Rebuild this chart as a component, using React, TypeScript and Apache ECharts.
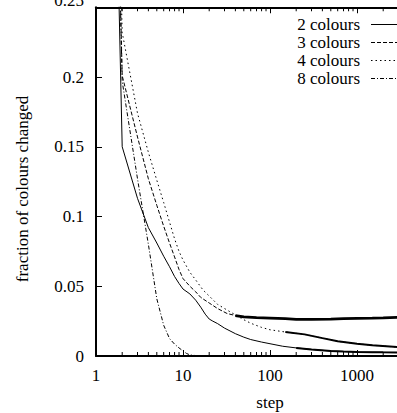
import React, { useEffect, useRef } from "react";
import * as echarts from "echarts";

const FONT = "Liberation Serif";

const seriesNames = ["2 colours", "3 colours", "4 colours", "8 colours"];

const steps2 = [1, 2, 3, 4, 5, 6, 7, 8, 9, 10, 12, 14, 16, 18, 20, 22, 25, 30, 40, 50, 60, 80, 100, 140, 200, 300, 500, 700, 1000, 1500, 2000, 3000, 5000, 10000];
const vals2 = [1.0, 0.15, 0.113, 0.092, 0.081, 0.0715, 0.064, 0.057, 0.052, 0.048, 0.0445, 0.040, 0.035, 0.030, 0.0265, 0.025, 0.0232, 0.020, 0.016, 0.0135, 0.0118, 0.010, 0.0088, 0.0070, 0.0058, 0.0047, 0.0036, 0.0032, 0.0029, 0.0027, 0.0026, 0.0025, 0.0024, 0.0022];

const steps3 = [1, 2, 3, 4, 5, 6, 7, 8, 9, 10, 12, 14, 16, 20, 25, 32, 40, 50, 70, 100, 150, 200, 300, 500, 700, 1000, 1500, 2000, 3000, 5000, 10000];
const vals3 = [1.0, 0.201, 0.157, 0.127, 0.108, 0.093, 0.081, 0.071, 0.062, 0.0555, 0.050, 0.046, 0.042, 0.038, 0.034, 0.0305, 0.029, 0.028, 0.0275, 0.0272, 0.0268, 0.0262, 0.0262, 0.0265, 0.0268, 0.027, 0.0272, 0.0274, 0.0277, 0.028, 0.028];

const steps4 = [1, 2, 3, 4, 5, 6, 7, 8, 9, 10, 12, 14, 17, 20, 25, 32, 40, 50, 60, 80, 100, 150, 250, 400, 600, 1000, 1500, 3000, 5000, 10000];
const vals4 = [1.0, 0.232, 0.174, 0.146, 0.126, 0.110, 0.096, 0.084, 0.075, 0.0688, 0.060, 0.0545, 0.0473, 0.043, 0.037, 0.033, 0.0295, 0.026, 0.0235, 0.0205, 0.0188, 0.0172, 0.0155, 0.0128, 0.0105, 0.0088, 0.0077, 0.0063, 0.0055, 0.0045];

const steps8 = [1, 2, 3, 4, 5, 6, 7, 8, 9, 10, 11, 12, 14, 16, 20];
const vals8 = [1.0, 0.197, 0.127, 0.080, 0.041, 0.022, 0.0125, 0.0085, 0.0058, 0.0036, 0.0018, 0.0008, 0.0003, 0, 0];

const allSteps = [steps2, steps3, steps4, steps8];
const allVals = [vals2, vals3, vals4, vals8];
const dashes: any[] = ["solid", [4, 2], [1.5, 3], [4, 2, 1, 2]];
// step from which the curve becomes a noisy band
const noisyFrom = [150, 40, 150, Infinity];
const noisyWidth = [2, 2.8, 2, 0];

const minorTicks = [2, 3, 4, 5, 6, 7, 8, 9, 20, 30, 40, 50, 60, 70, 80, 90, 200, 300, 400, 500, 600, 700, 800, 900, 2000, 3000, 4000, 5000, 6000, 7000, 8000, 9000];

const xTitle = "step";
const yTitle = "fraction of colours changed";

function buildOption() {
  const series: any[] = [];
  seriesNames.forEach((name, i) => {
    const data = allSteps[i].map((s, j) => [s, allVals[i][j]]);
    series.push({
      name,
      type: "line",
      data,
      showSymbol: false,
      symbol: "none",
      lineStyle: { color: "#000", width: 1, type: dashes[i] },
      z: 3,
    });
    if (noisyFrom[i] !== Infinity) {
      series.push({
        name: name + " band",
        type: "line",
        data: data.filter((d) => d[0] >= noisyFrom[i]),
        showSymbol: false,
        symbol: "none",
        lineStyle: { color: "#000", width: noisyWidth[i], type: "solid" },
        z: 3,
      });
    }
  });
  series.push({
    type: "custom",
    data: minorTicks.map((v) => [v, 0]),
    encode: { x: 0, y: 1 },
    clip: false,
    silent: true,
    z: 5,
    renderItem: (params: any, api: any) => {
      const x = api.coord([api.value(0), 0])[0];
      const yb = api.coord([1, 0])[1];
      const yt = api.coord([1, 0.25])[1];
      return {
        type: "group",
        children: [
          { type: "line", shape: { x1: x, y1: yb, x2: x, y2: yb - 4 }, style: { stroke: "#000", lineWidth: 1 } },
          { type: "line", shape: { x1: x, y1: yt, x2: x, y2: yt + 4 }, style: { stroke: "#000", lineWidth: 1 } },
        ],
      };
    },
  });

  const legendGraphics: any[] = [];
  seriesNames.forEach((name, i) => {
    const y = 24.5 + i * 18;
    legendGraphics.push({
      type: "text",
      x: 360,
      y,
      style: { text: name, fontFamily: FONT, fontSize: 17, fill: "#000", align: "right", verticalAlign: "middle", textAlign: "right", textVerticalAlign: "middle" },
    });
    legendGraphics.push({
      type: "line",
      shape: { x1: 371, y1: y, x2: 430, y2: y },
      style: { stroke: "#000", lineWidth: 1, lineDash: dashes[i] === "solid" ? null : dashes[i] },
    });
  });
  legendGraphics.push({
    type: "text",
    x: 22,
    y: 189,
    rotation: Math.PI / 2,
    style: { text: yTitle, fontFamily: FONT, fontSize: 17, fill: "#000", align: "center", verticalAlign: "middle", textAlign: "center", textVerticalAlign: "middle" },
  });

  const xCommon = {
    type: "log",
    logBase: 10,
    min: 1,
    max: 10000,
    splitLine: { show: false },
    axisLine: { show: true, lineStyle: { color: "#000", width: 2 } },
    axisTick: { show: true, inside: true, length: 6, lineStyle: { color: "#000", width: 1 } },
  };

  return {
    animation: false,
    backgroundColor: "#fff",
    textStyle: { fontFamily: FONT },
    grid: { left: 96, top: 7.25, width: 348, height: 348.75, containLabel: false, outerBoundsMode: "none" },
    xAxis: [
      {
        ...xCommon,
        position: "bottom",
        name: xTitle,
        nameLocation: "middle",
        nameGap: 38,
        nameTextStyle: { fontFamily: FONT, fontSize: 17, color: "#000" },
        axisLabel: {
          show: true,
          margin: 11,
          fontFamily: FONT,
          fontSize: 17,
          color: "#000",
          formatter: (v: number) => {
            const r = Math.round(v);
            return r >= 10000 ? "" : String(r);
          },
        },
      },
      {
        ...xCommon,
        position: "top",
        axisLabel: { show: false },
      },
    ],
    yAxis: {
      type: "value",
      min: 0,
      max: 0.25,
      interval: 0.05,
      splitLine: { show: false },
      axisLine: { show: true, lineStyle: { color: "#000", width: 2 } },
      axisTick: { show: true, inside: true, length: 6, lineStyle: { color: "#000", width: 1 } },
      axisLabel: {
        margin: 12,
        fontFamily: FONT,
        fontSize: 17,
        color: "#000",
        formatter: (v: number) => {
          const s = String(parseFloat(v.toFixed(4)));
          return Math.abs(v - 0.25) < 1e-9 ? "{t|" + s + "}" : s;
        },
        rich: { t: { fontFamily: FONT, fontSize: 17, color: "#000", padding: [0, 0, 14, 0] } },
      },
    },
    graphic: legendGraphics,
    series,
  };
}

export default function App() {
  const ref = useRef<HTMLDivElement>(null);
  useEffect(() => {
    const chart = echarts.init(ref.current!, null, { renderer: "svg" });
    chart.setOption(buildOption() as any);
    return () => chart.dispose();
  }, []);
  return (
    <div
      ref={ref}
      style={{ position: "absolute", left: 0, top: 0, width: 397, height: 413, background: "#fff" }}
    />
  );
}
